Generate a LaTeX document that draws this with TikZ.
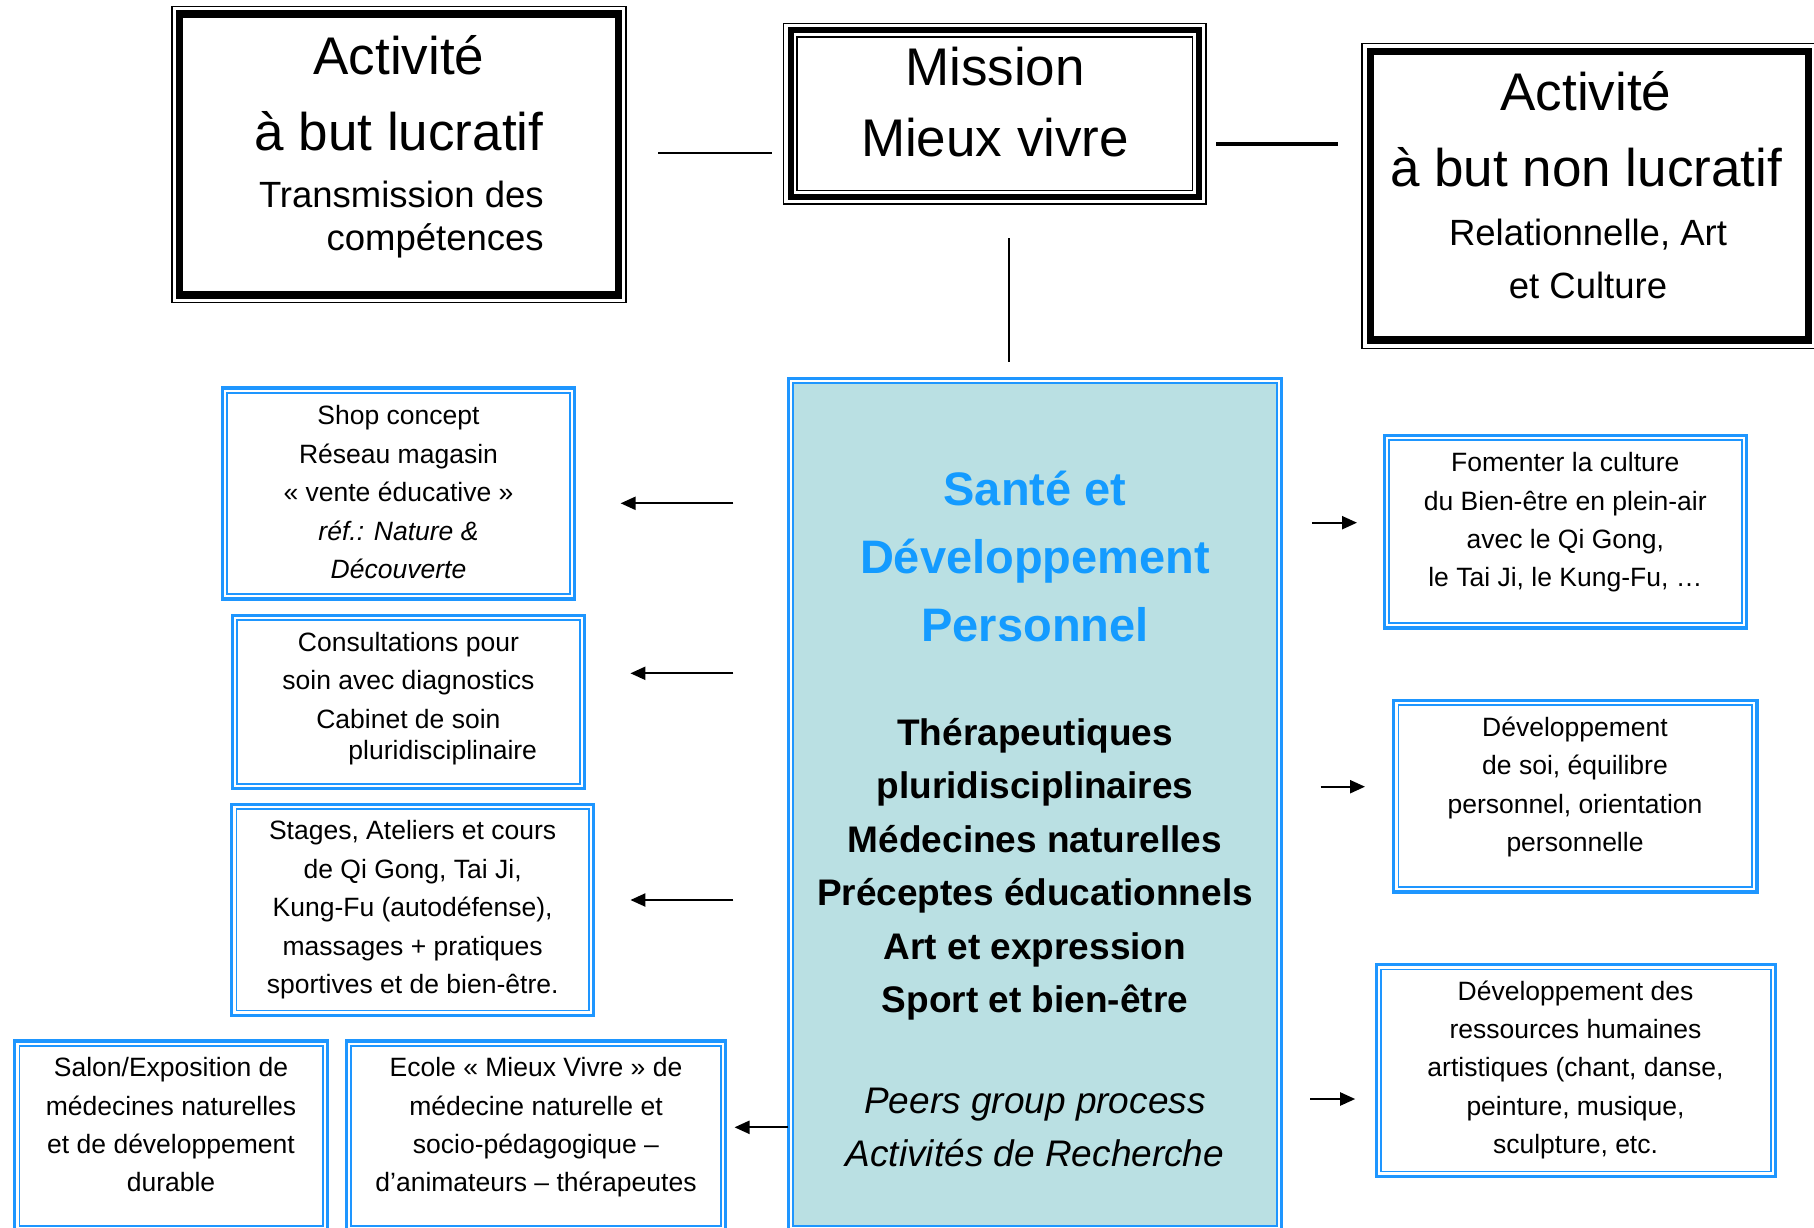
\documentclass[tikz,border=0pt]{standalone}
\usepackage{fontspec}
\setmainfont{Liberation Sans}
\usetikzlibrary{arrows.meta}
\definecolor{bl}{RGB}{30,150,255}
\definecolor{bt}{RGB}{20,155,255}
\definecolor{lb}{RGB}{186,224,227}
\begin{document}
\begin{tikzpicture}[x=1pt,y=-1pt,
  every node/.style={inner sep=0pt, outer sep=0pt},
  blkframe/.style={draw=black, line width=1.5pt,
    path picture={\draw[black, line width=7.5pt]
      ([shift={(#1,#1)}]path picture bounding box.south west) rectangle
      ([shift={(-#1,-#1)}]path picture bounding box.north east);}},
  missionframe/.style={draw=black, line width=1.5pt,
    path picture={\draw[black, line width=6pt]
      ([shift={(7pt,7pt)}]path picture bounding box.south west) rectangle
      ([shift={(-7pt,-7pt)}]path picture bounding box.north east);
      \draw[black, line width=1.5pt]
      ([shift={(13.5pt,13.5pt)}]path picture bounding box.south west) rectangle
      ([shift={(-13.5pt,-13.5pt)}]path picture bounding box.north east);}},
  bframe/.style={draw=bl, line width=3.2pt, fill=white,
    path picture={\draw[bl, line width=1.8pt, fill=#1]
      ([shift={(4.8pt,4.8pt)}]path picture bounding box.south west) rectangle
      ([shift={(-4.8pt,-4.8pt)}]path picture bounding box.north east);}},
  txt/.style={align=center, anchor=base},
  titlet/.style={txt, font=\fontsize{53}{76}\selectfont},
  missiont/.style={txt, font=\fontsize{53}{71.7}\selectfont},
  subA/.style={font=\fontsize{36.5}{43.7}\selectfont, align=right, anchor=base east},
  subC/.style={txt, font=\fontsize{36.5}{53.3}\selectfont},
  bluet/.style={txt, text=bt, font=\fontsize{47}{68.3}\selectfont\bfseries},
  blkt/.style={txt, font=\fontsize{37}{53.5}\selectfont\bfseries},
  itat/.style={txt, font=\fontsize{37}{53.4}\selectfont\itshape},
  smallt/.style={txt, font=\fontsize{26.5}{38.4}\selectfont},
  arr/.style={line width=2.2pt, -{Triangle[length=15pt,width=13pt]}},
  thinln/.style={line width=2pt},
  thickln/.style={line width=4.5pt},
  vln/.style={line width=1.7pt}
]
\useasboundingbox (0,0) rectangle (1814,1228);

% top black frames
\node[blkframe=7.5pt, minimum width=454pt, minimum height=296pt] (a) at (398.8,154.7) {};
\node[missionframe, minimum width=422.3pt, minimum height=180.7pt] (m) at (994.85,113.65) {};
\node[blkframe=8.3pt, minimum width=455pt, minimum height=305pt] (c) at (1589.5,195.8) {};

% centre box
\node[bframe=lb, line width=3.3pt, minimum width=493.1pt, minimum height=852.2pt] (cb) at (1034.85,804.4) {};

% side boxes
\node[bframe=white, minimum width=352.2pt, minimum height=211pt] (s1) at (398.5,493.5) {};
\node[bframe=white, minimum width=352.3pt, minimum height=173.4pt] (s2) at (408.35,702) {};
\node[bframe=white, minimum width=362.1pt, minimum height=210.8pt] (s3) at (412.65,909.9) {};
\node[bframe=white, minimum width=313pt, minimum height=190pt] (s4) at (171.2,1136) {};
\node[bframe=white, minimum width=379.5pt, minimum height=190pt] (s5) at (535.85,1136) {};
\node[bframe=white, minimum width=362.1pt, minimum height=192.7pt] (r1) at (1565.45,531.65) {};
\node[bframe=white, minimum width=363.3pt, minimum height=191.7pt] (r2) at (1575.35,796.15) {};
\node[bframe=white, minimum width=399.1pt, minimum height=211.6pt] (r3) at (1575.85,1070.5) {};

% texts (anchored at the baseline of their last line)
\node[titlet] (ta) at (399,150) {Activité\\à but lucratif};
\node[subA] (sa) at (543.7,250.7) {Transmission des\\compétences};
\node[missiont] (tm) at (995,156.7) {Mission\\Mieux vivre};
\node[titlet] (tc) at (1586,186.7) {Activité\\à but non lucratif};
\node[subC] (sc) at (1588,298.3) {Relationnelle, Art\\et Culture};
\node[bluet] (t1) at (1035,641.6) {Santé et\\Développement\\Personnel};
\node[blkt] (t2) at (1035,1012.5) {Thérapeutiques\\pluridisciplinaires\\Médecines naturelles\\Préceptes éducationnels\\Art et expression\\Sport et bien-être};
\node[itat] (t3) at (1035,1166.7) {Peers group process\\Activités de Recherche};

\node[smallt] (ts1) at (398.5,578.5) {Shop concept\\Réseau magasin\\« vente éducative »\\\textit{réf.: Nature \&}\\\textit{Découverte}};
\node[smallt] (ts2) at (408.4,759.3) {Consultations pour\\soin avec diagnostics\\Cabinet de soin\\[-7.4pt]\hspace*{68.7pt}pluridisciplinaire};
\node[smallt] (ts3) at (412.65,993.5) {Stages, Ateliers et cours\\de Qi Gong, Tai Ji,\\Kung-Fu (autodéfense),\\massages + pratiques\\sportives et de bien-être.};
\node[smallt] (ts4) at (171,1191.9) {Salon/Exposition de\\médecines naturelles\\et de développement\\durable};
\node[smallt] (ts5) at (536,1191.9) {Ecole « Mieux Vivre » de\\médecine naturelle et\\socio-pédagogique –\\d’animateurs – thérapeutes};
\node[smallt] (tr1) at (1565.3,586.9) {Fomenter la culture\\du Bien-être en plein-air\\avec le Qi Gong,\\le Tai Ji, le Kung-Fu, …};
\node[smallt] (tr2) at (1575,851.5) {Développement\\de soi, équilibre\\personnel, orientation\\personnelle};
\node[smallt] (tr3) at (1575.5,1153.6) {Développement des\\ressources humaines\\artistiques (chant, danse,\\peinture, musique,\\sculpture, etc.};

% connectors between the top boxes
\coordinate (yam) at (0,153.3);
\coordinate (ymc) at (0,144);
\coordinate (xv) at (1009,0);
\draw[thinln, shorten <=32.2pt, shorten >=11.7pt] (a.east |- yam) -- (m.west |- yam);
\draw[thickln, shorten <=10.4pt, shorten >=24pt] (m.east |- ymc) -- (c.west |- ymc);
\draw[vln, shorten <=34.3pt, shorten >=16.6pt] (xv |- m.south) -- (xv |- cb.north);

% arrows to the left boxes
\coordinate (y1) at (0,503.3);
\coordinate (y2) at (0,673.3);
\coordinate (y3) at (0,900);
\coordinate (y4) at (0,1127.3);
\draw[arr, shorten <=54.9pt, shorten >=46pt] (cb.west |- y1) -- (s1.east |- y1);
\draw[arr, shorten <=54.9pt, shorten >=45.9pt] (cb.west |- y2) -- (s2.east |- y2);
\draw[arr, shorten <=54.9pt, shorten >=36.7pt] (cb.west |- y3) -- (s3.east |- y3);
\draw[arr, shorten >=8.9pt] (cb.west |- y4) -- (s5.east |- y4);

% arrows to the right boxes
\coordinate (z1) at (0,522.7);
\coordinate (z2) at (0,786.7);
\coordinate (z3) at (0,1099);
\draw[arr, shorten <=30.5pt, shorten >=27.4pt] (cb.east |- z1) -- (r1.west |- z1);
\draw[arr, shorten <=39.1pt, shorten >=28.7pt] (cb.east |- z2) -- (r2.west |- z2);
\draw[arr, shorten <=28.6pt, shorten >=21.1pt] (cb.east |- z3) -- (r3.west |- z3);
\end{tikzpicture}
\end{document}
